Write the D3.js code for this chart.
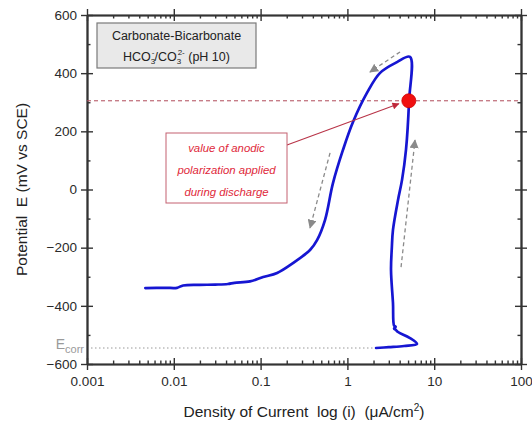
<!DOCTYPE html>
<html>
<head>
<meta charset="utf-8">
<script src="https://cdn.jsdelivr.net/npm/d3@7"></script>
<style>
  html, body { margin: 0; padding: 0; background: #fff; }
  svg { display: block; font-family: "Liberation Sans", Arial, sans-serif; }
  text { white-space: pre; }
</style>
</head>
<body>
<svg id="chart" width="532" height="424"></svg>
<script>
// Polarization scan: current density (µA/cm²) and potential (mV vs SCE), in scan order
const currentDensity = [
  2.14, 3.0, 4.5, 6.34, 5.2, 3.83, 3.6, 3.45, 3.6, 3.45, 3.35, 3.18, 3.25, 3.35, 3.83, 4.26, 4.73, 5.13, 5.26,
  3.73, 2.38, 1.68, 1.16, 0.889, 0.682, 0.552, 0.447, 0.371, 0.236, 0.155, 0.107, 0.0755,
  0.0500, 0.0420, 0.030, 0.020, 0.0128, 0.0109, 0.0080, 0.0047
];
const potential = [
  -545, -542, -538, -531, -510, -490, -482, -478, -472, -468, -390, -277, -200, -139, -36, 33, 136, 304, 456,
  438, 401, 332, 232, 136, 22, -105, -174, -208, -253, -287, -301, -316,
  -321, -325, -327, -328, -330, -338, -338, -339
];

const xTickValues = [0.001, 0.01, 0.1, 1, 10, 100];
const xTickLabels = ["0.001", "0.01", "0.1", "1", "10", "100"];
const yTickValues = [-600, -400, -200, 0, 200, 400, 600];
const yMinorValues = [-500, -300, -100, 100, 300, 500];

const eCorr = -545;              // corrosion potential (mV)
const appliedPotential = 305;    // anodic polarization applied during discharge (mV)
const appliedCurrent = 5.1;      // current density at that potential (µA/cm²)

// Scan direction arrows: [i0, E0, i1, E1]
const scanArrows = [
  [4.04, 473, 1.82, 404],
  [0.631, 126, 0.371, -132],
  [4.15, -267, 6.01, 170]
];

const noteLines = ["value of anodic", "polarization applied", "during discharge"];

const svg = d3.select("#chart");
const margin = { left: 87, right: 11, top: 15, bottom: 60 };
const W = 532, H = 424;

const x = d3.scaleLog().domain([0.001, 100]).range([margin.left, W - margin.right]);
const y = d3.scaleLinear().domain([-600, 600]).range([H - margin.bottom, margin.top]);

const minorX = [];
for (let d = 0.001; d < 100; d *= 10) for (let k = 2; k <= 9; k++) minorX.push(+(d * k).toPrecision(3));

const axisColor = "#333";

function styleAxis(g) {
  g.select(".domain").attr("stroke", axisColor).attr("stroke-width", 1.6);
  g.selectAll(".tick line").attr("stroke", axisColor).attr("stroke-width", 1.4);
  g.selectAll(".tick text").attr("fill", "#2a2a2a").attr("font-size", 13.5);
}

const x0 = y.range()[0], xTop = y.range()[1];
const yL = x.range()[0], yR = x.range()[1];

// bottom axis: labels and outward major ticks
svg.append("g").attr("transform", `translate(0,${x0})`)
  .call(d3.axisBottom(x).tickValues(xTickValues).tickFormat((d, i) => xTickLabels[i]).tickSize(6).tickPadding(6).tickSizeOuter(0))
  .call(styleAxis);
// bottom axis: inward major + minor ticks
svg.append("g").attr("transform", `translate(0,${x0})`)
  .call(d3.axisBottom(x).tickValues(xTickValues).tickFormat("").tickSize(-6).tickSizeOuter(0)).call(styleAxis);
svg.append("g").attr("transform", `translate(0,${x0})`)
  .call(d3.axisBottom(x).tickValues(minorX).tickFormat("").tickSize(-3.5).tickSizeOuter(0)).call(styleAxis);
// top mirror axis
svg.append("g").attr("transform", `translate(0,${xTop})`)
  .call(d3.axisTop(x).tickValues(xTickValues).tickFormat("").tickSize(6).tickSizeOuter(0)).call(styleAxis);
svg.append("g").attr("transform", `translate(0,${xTop})`)
  .call(d3.axisTop(x).tickValues(xTickValues).tickFormat("").tickSize(-6).tickSizeOuter(0)).call(styleAxis);
svg.append("g").attr("transform", `translate(0,${xTop})`)
  .call(d3.axisTop(x).tickValues(minorX).tickFormat("").tickSize(-3.5).tickSizeOuter(0)).call(styleAxis);

// left axis
svg.append("g").attr("transform", `translate(${yL},0)`)
  .call(d3.axisLeft(y).tickValues(yTickValues).tickSize(6).tickPadding(4).tickSizeOuter(0))
  .call(styleAxis);
svg.append("g").attr("transform", `translate(${yL},0)`)
  .call(d3.axisLeft(y).tickValues(yTickValues).tickFormat("").tickSize(-6).tickSizeOuter(0)).call(styleAxis);
svg.append("g").attr("transform", `translate(${yL},0)`)
  .call(d3.axisLeft(y).tickValues(yMinorValues).tickFormat("").tickSize(-3.5).tickSizeOuter(0)).call(styleAxis);
// right mirror axis
svg.append("g").attr("transform", `translate(${yR},0)`)
  .call(d3.axisRight(y).tickValues(yTickValues).tickFormat("").tickSize(6).tickSizeOuter(0)).call(styleAxis);
svg.append("g").attr("transform", `translate(${yR},0)`)
  .call(d3.axisRight(y).tickValues(yTickValues).tickFormat("").tickSize(-6).tickSizeOuter(0)).call(styleAxis);
svg.append("g").attr("transform", `translate(${yR},0)`)
  .call(d3.axisRight(y).tickValues(yMinorValues).tickFormat("").tickSize(-3.5).tickSizeOuter(0)).call(styleAxis);

// axis titles
svg.append("text")
  .attr("transform", `translate(27,${(y.range()[0] + y.range()[1]) / 2}) rotate(-90)`)
  .attr("text-anchor", "middle").attr("font-size", 15.5).attr("fill", "#222")
  .text("Potential  E (mV vs SCE)");

const xt = svg.append("text")
  .attr("x", 304).attr("y", 417)
  .attr("text-anchor", "middle").attr("font-size", 15.5).attr("fill", "#222");
xt.append("tspan").text("Density of Current  log (i)  (\u03bcA/cm");
xt.append("tspan").attr("font-size", 10).attr("dy", -6).text("2");
xt.append("tspan").attr("dy", 6).text(")");

// Ecorr reference line and label
svg.append("line")
  .attr("x1", yL + 4).attr("x2", x(currentDensity[0]))
  .attr("y1", y(eCorr)).attr("y2", y(eCorr))
  .attr("stroke", "#999").attr("stroke-width", 1).attr("stroke-dasharray", "1.5,2.5");
const ec = svg.append("text").attr("x", 84).attr("y", y(eCorr) + 1)
  .attr("text-anchor", "end").attr("fill", "#9a9a9a").attr("font-size", 14);
ec.append("tspan").text("E");
ec.append("tspan").attr("font-size", 11).attr("dy", 4).text("corr");

// applied polarization level
svg.append("line")
  .attr("x1", yL).attr("x2", yR)
  .attr("y1", y(appliedPotential)).attr("y2", y(appliedPotential))
  .attr("stroke", "#b04a5a").attr("stroke-width", 1).attr("stroke-dasharray", "4,3");

// markers
const defs = svg.append("defs");
defs.append("marker").attr("id", "grayHead").attr("viewBox", "0 0 10 10")
  .attr("refX", 9).attr("refY", 5).attr("markerWidth", 9).attr("markerHeight", 9)
  .attr("markerUnits", "userSpaceOnUse").attr("orient", "auto")
  .append("path").attr("d", "M0,0 L10,5 L0,10 Z").attr("fill", "#8a8a8a");
defs.append("marker").attr("id", "redHead").attr("viewBox", "0 0 10 10")
  .attr("refX", 9).attr("refY", 5).attr("markerWidth", 9).attr("markerHeight", 7)
  .attr("markerUnits", "userSpaceOnUse").attr("orient", "auto")
  .append("path").attr("d", "M0,0 L10,5 L0,10 Z").attr("fill", "#c0283a");

// polarization curve
const scan = currentDensity.map((d, i) => [d, potential[i]]);
svg.append("path")
  .datum(scan)
  .attr("d", d3.line().x(d => x(d[0])).y(d => y(d[1])).curve(d3.curveCatmullRom.alpha(0.5)))
  .attr("fill", "none").attr("stroke", "#1616d2").attr("stroke-width", 2.7)
  .attr("stroke-linejoin", "round").attr("stroke-linecap", "round");

// scan direction arrows
svg.selectAll(".scanArrow").data(scanArrows).join("line")
  .attr("class", "scanArrow")
  .attr("x1", d => x(d[0])).attr("y1", d => y(d[1]))
  .attr("x2", d => x(d[2])).attr("y2", d => y(d[3]))
  .attr("stroke", "#8a8a8a").attr("stroke-width", 1.3).attr("stroke-dasharray", "4,3")
  .attr("marker-end", "url(#grayHead)");

// note box with leader arrow
const box = { x: 166, y: 133, w: 121, h: 70 };
svg.append("line")
  .attr("x1", box.x + box.w).attr("y1", box.y + 12)
  .attr("x2", x(appliedCurrent) - 10).attr("y2", y(appliedPotential) + 3)
  .attr("stroke", "#b83448").attr("stroke-width", 1.1)
  .attr("marker-end", "url(#redHead)");
svg.append("rect")
  .attr("x", box.x).attr("y", box.y).attr("width", box.w).attr("height", box.h)
  .attr("fill", "#fff").attr("stroke", "#c46070").attr("stroke-width", 1);
svg.selectAll(".note").data(noteLines).join("text")
  .attr("class", "note")
  .attr("x", box.x + box.w / 2).attr("y", (d, i) => box.y + 19 + i * 22)
  .attr("text-anchor", "middle").attr("font-size", 11.4).attr("font-style", "italic")
  .attr("fill", "#e0283a").text(d => d);

// applied point
svg.append("circle")
  .attr("cx", x(appliedCurrent)).attr("cy", y(appliedPotential)).attr("r", 7)
  .attr("fill", "#f01010").attr("stroke", "#d00000").attr("stroke-width", 0.8);

// electrolyte label
const lg = { x: 97, y: 23, w: 159, h: 45 };
svg.append("rect")
  .attr("x", lg.x).attr("y", lg.y).attr("width", lg.w).attr("height", lg.h)
  .attr("fill", "#e9e9e9").attr("stroke", "#7a7a7a").attr("stroke-width", 1.2);
svg.append("text").attr("x", lg.x + lg.w / 2).attr("y", lg.y + 17)
  .attr("text-anchor", "middle").attr("font-size", 12.5).attr("fill", "#222")
  .text("Carbonate-Bicarbonate");
const l2 = svg.append("text").attr("x", lg.x + lg.w / 2).attr("y", lg.y + 38)
  .attr("text-anchor", "middle").attr("font-size", 12.5).attr("fill", "#222");
l2.append("tspan").text("HCO");
l2.append("tspan").attr("font-size", 8).attr("dy", 3).text("3");
l2.append("tspan").attr("font-size", 8).attr("dx", -3.5).attr("dy", -9).text("-");
l2.append("tspan").attr("dy", 6).text("/CO");
l2.append("tspan").attr("font-size", 8).attr("dy", 3).text("3");
l2.append("tspan").attr("font-size", 8).attr("dx", -3.5).attr("dy", -9).text("2-");
l2.append("tspan").attr("dy", 6).text(" (pH 10)");
</script>
</body>
</html>
